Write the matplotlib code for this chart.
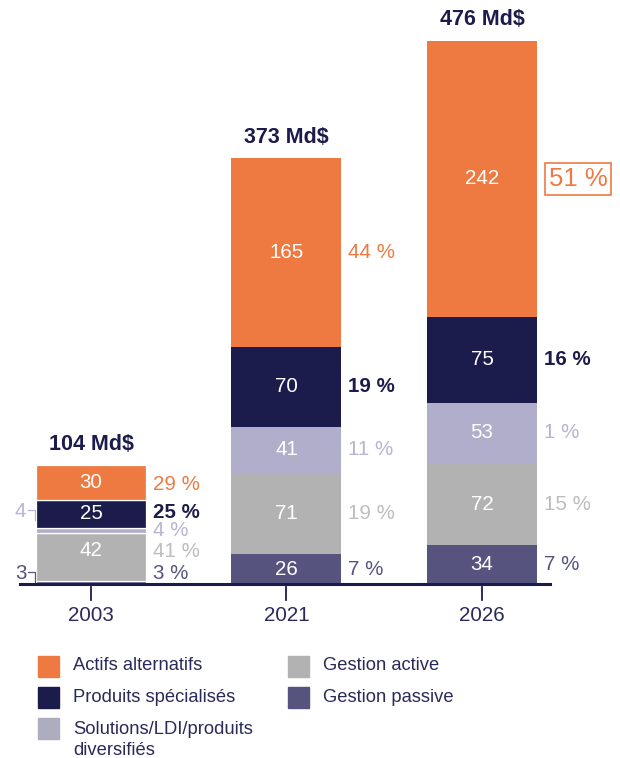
import numpy as np
import matplotlib
matplotlib.use("Agg")
import matplotlib.pyplot as plt
from matplotlib.patches import Rectangle

plt.rcParams['font.family'] = ['Liberation Sans', 'DejaVu Sans']

# data
years = ['2003', '2021', '2026']
categories = ['Gestion passive', 'Gestion active', 'Solutions/LDI/produits\ndiversifiés',
              'Produits spécialisés', 'Actifs alternatifs']
passive = [3, 26, 34]
active = [42, 71, 72]
solutions = [4, 41, 53]
speciality = [25, 70, 75]
alternatives = [30, 165, 242]
totals = ['104 Md$', '373 Md$', '476 Md$']
pct_passive = ['3 %', '7 %', '7 %']
pct_active = ['41 %', '19 %', '15 %']
pct_solutions = ['4 %', '11 %', '1 %']
pct_speciality = ['25 %', '19 %', '16 %']
pct_alternatives = ['29 %', '44 %', '51 %']

series = [passive, active, solutions, speciality, alternatives]
pcts = [pct_passive, pct_active, pct_solutions, pct_speciality, pct_alternatives]

c_orange = '#ee7a42'
c_navy = '#1c1c4c'
c_lav = '#b1aecb'
c_grey = '#b2b2b2'
c_slate = '#56547f'
colors = [c_slate, c_grey, c_lav, c_navy, c_orange]
txt_colors = [c_slate, '#bdbdbd', '#b7b5d3', c_navy, c_orange]
txt_weights = ['normal', 'normal', 'normal', 'bold', 'normal']
fs = 14.8

fig = plt.figure(figsize=(6.2, 7.58), dpi=100)
ax = fig.add_axes([20 / 620, 174 / 758, 530 / 620, 564 / 758])
ax.set_xlim(-0.363, 2.348)
ax.set_ylim(0, 494.3)
ax.axis('off')

x = np.arange(len(years))
w = 0.5625
bottom = np.zeros(len(years))
centers = []
for vals, col in zip(series, colors):
    vals = np.array(vals, dtype=float)
    ax.bar(x, vals, w, bottom=bottom, color=col, edgecolor='white',
           linewidth=[0.9, 0, 0], zorder=2)
    centers.append(bottom + vals / 2)
    bottom = bottom + vals
tops = bottom

# axis line and ticks
ax.plot([-0.363, 2.348], [0, 0], color=c_navy, lw=2.2, zorder=3, clip_on=False)
for xi, yr in zip(x, years):
    ax.plot([xi, xi], [-3, -14], color=c_navy, lw=1.3, clip_on=False)
    ax.text(xi, -27.5, yr, ha='center', va='center', fontsize=fs, color='#2a2a5a')

# totals
for xi, t, tp in zip(x, totals, tops):
    ax.text(xi, tp + 18.5, t, ha='center', va='center', fontsize=15.5, fontweight='bold', color=c_navy)

# values inside bars
for k, vals in enumerate(series):
    for i in range(len(years)):
        if vals[i] >= 10:
            yc = centers[k][i]
            if i == 0 and k == 1:
                yc += 5
            ax.text(x[i], yc, str(vals[i]), ha='center', va='center', fontsize=fs, color='white')

# percentage labels
xr = x + w / 2 + 0.035
label_y_2003 = [8.8, 28.9, 47.3, 63.1, 86.8]
for k in range(len(series)):
    for i in range(len(years)):
        yc = label_y_2003[k] if i == 0 else centers[k][i]
        if i == 2 and k == 4:
            ax.text(xr[i] + 0.025, yc, pcts[k][i], ha='left', va='center', fontsize=18.5,
                    color=c_orange,
                    bbox=dict(boxstyle='square,pad=0.15', fc='white', ec=c_orange, lw=1.2))
        else:
            ax.text(xr[i], yc, pcts[k][i], ha='left', va='center', fontsize=fs,
                    color=txt_colors[k], fontweight=txt_weights[k])

# small segment labels on the left for 2003
for k, yl in [(2, 63.8), (0, 9.6)]:
    col = txt_colors[k] if k == 0 else '#b7b5d3'
    ax.text(-0.39, yl, str(series[k][0]), ha='left', va='center', fontsize=fs, color=col)
    ax.plot([-0.32, -0.285, -0.285], [yl + 1.2, yl + 1.2, yl - 7.5], color=col,
            lw=0.9, clip_on=False)

# legend
leg_items = [(c_orange, 'Actifs alternatifs', 38, 666),
             (c_navy, 'Produits spécialisés', 38, 697),
             ('#aeadbf', 'Solutions/LDI/produits\ndiversifiés', 38, 728),
             (c_grey, 'Gestion active', 288, 666),
             (c_slate, 'Gestion passive', 288, 697)]
for col, lab, px, py in leg_items:
    fig.patches.append(Rectangle((px / 620, 1 - (py + 10.5) / 758), 21 / 620, 21 / 758,
                                 transform=fig.transFigure, color=col))
    ty = py + 12 if '\n' in lab else py
    fig.text((px + 35) / 620, 1 - ty / 758, lab, ha='left', va='center',
             fontsize=13.2, color='#2a2a5a', linespacing=1.3)

fig.savefig('out.png', dpi=100)
